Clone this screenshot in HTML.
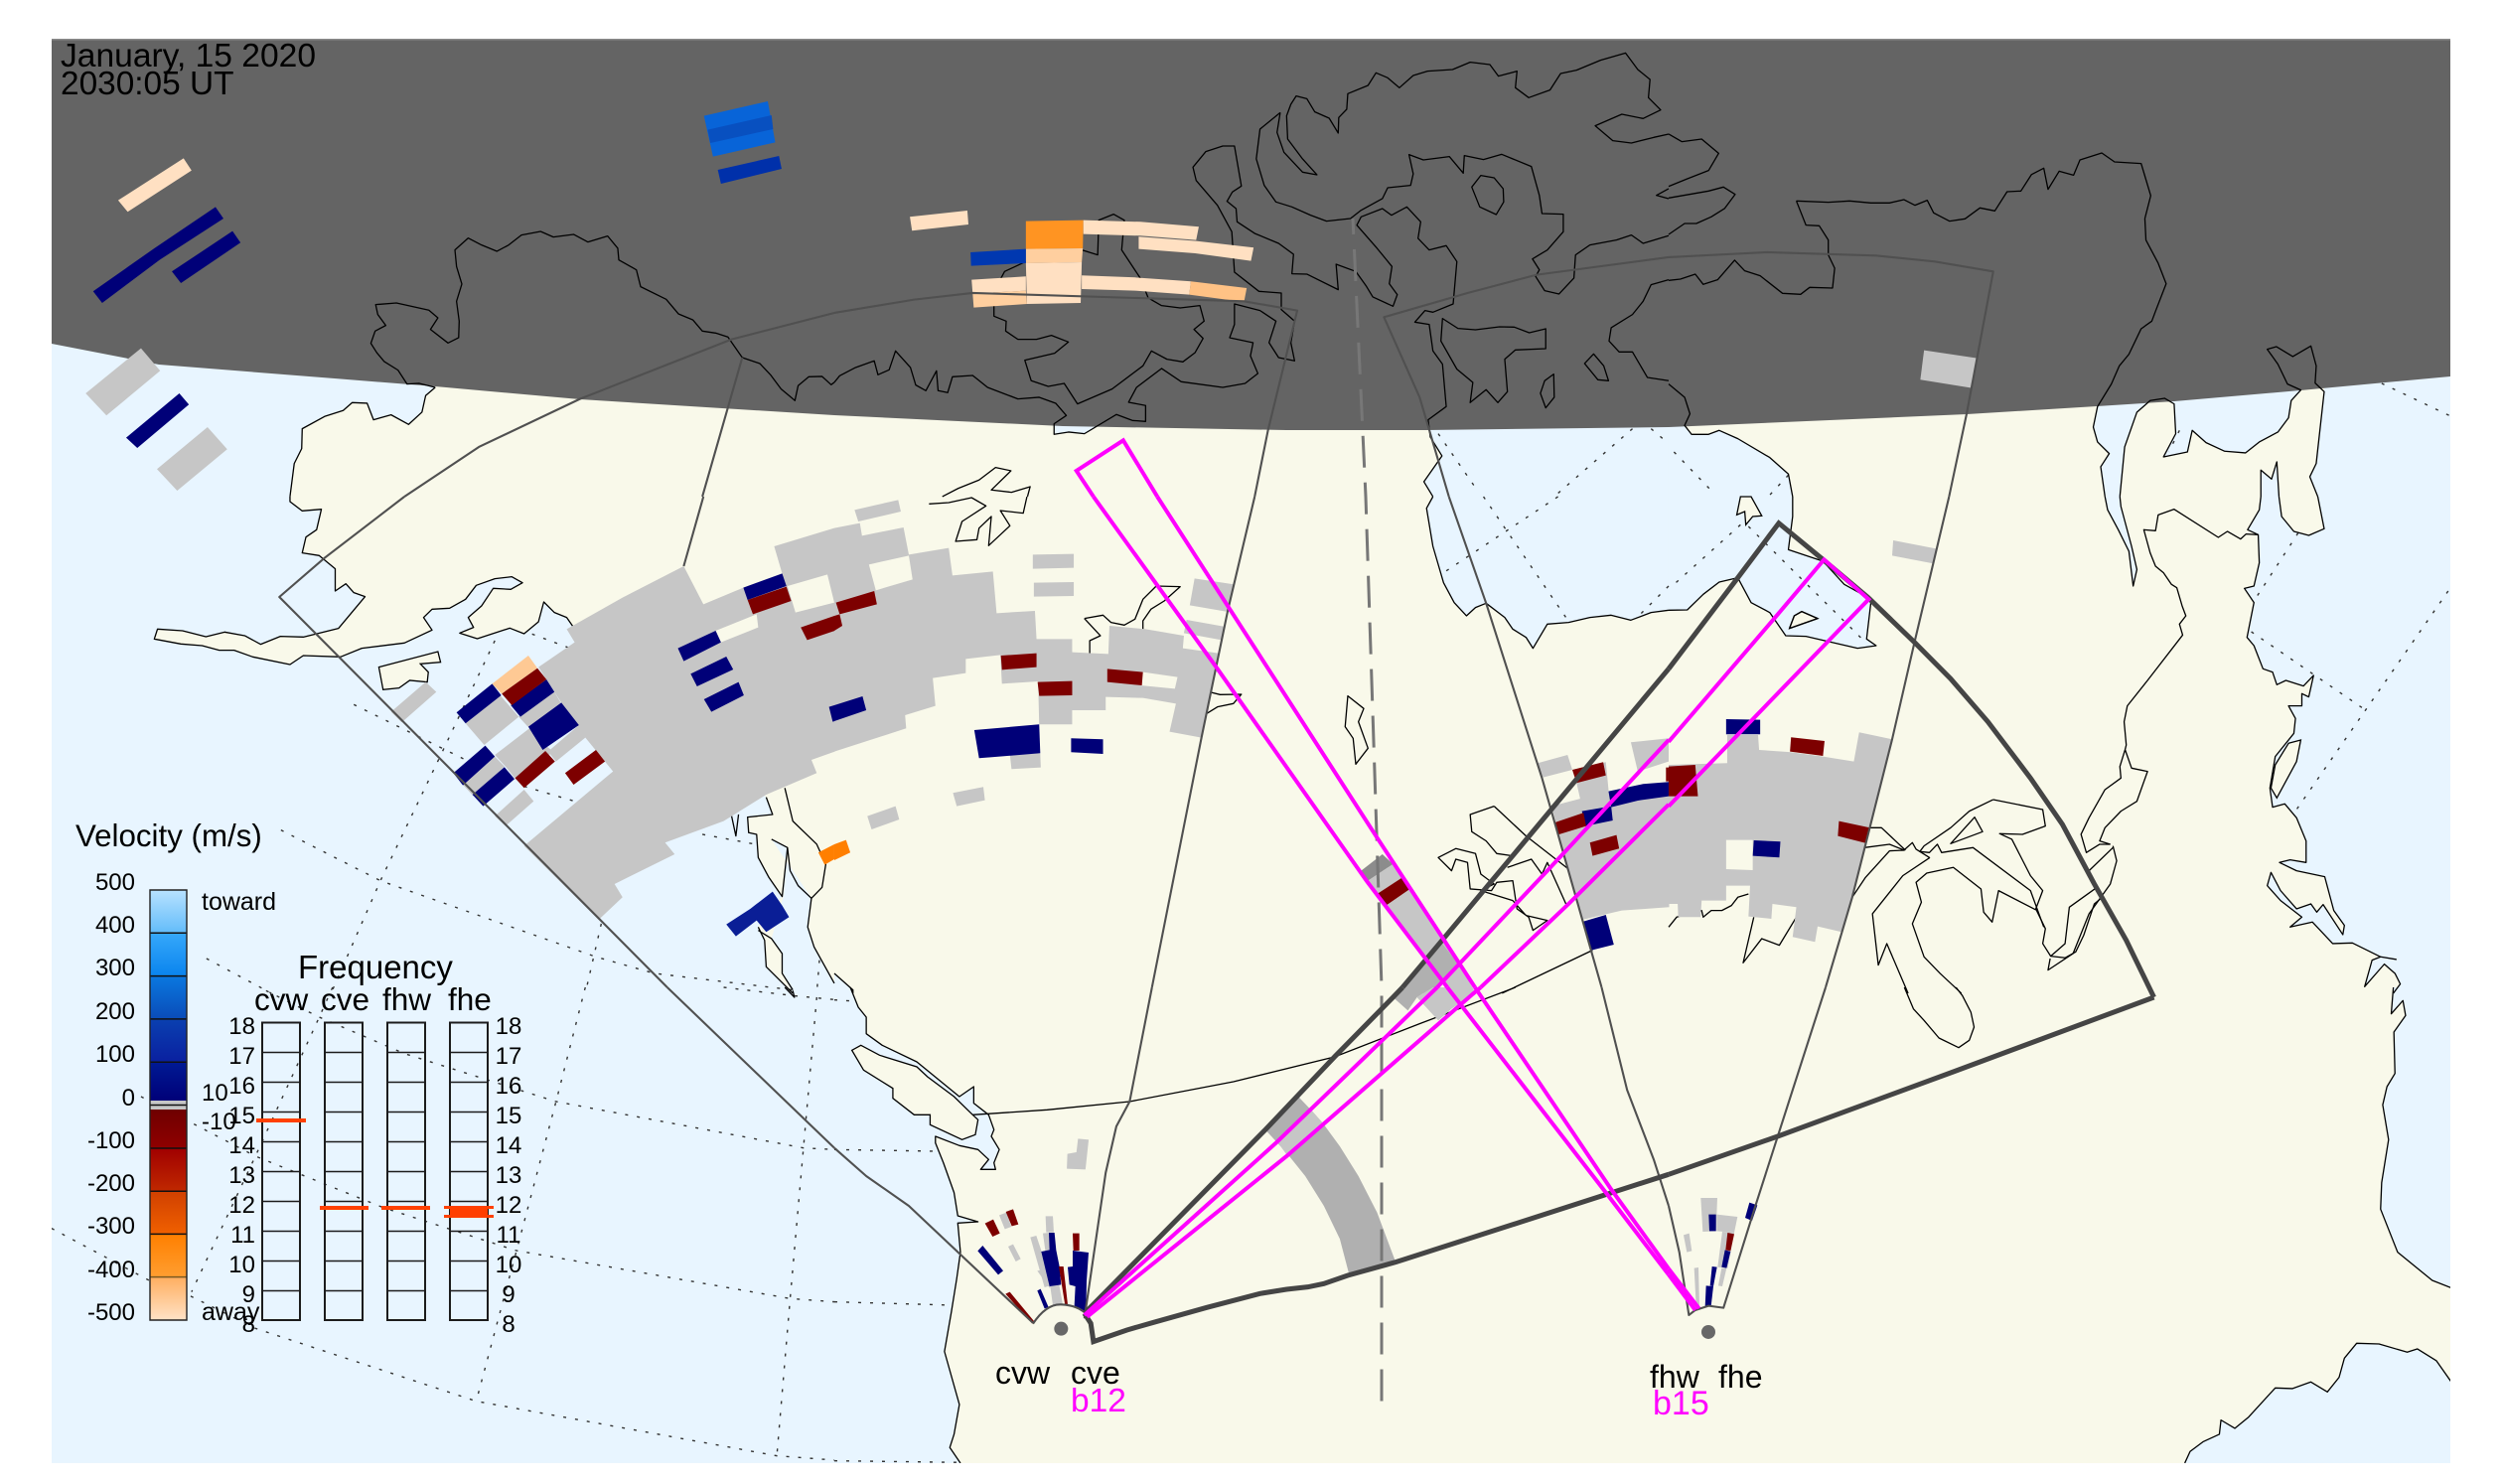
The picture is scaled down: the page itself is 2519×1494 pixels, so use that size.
<!DOCTYPE html>
<html><head><meta charset="utf-8"><title>SuperDARN velocity map</title>
<style>
html,body{margin:0;padding:0;background:#fff}
svg{display:block}
polygon,polyline,line,path,rect{vector-effect:non-scaling-stroke}
text{font-family:"Liberation Sans",sans-serif;fill:#000}
.o{fill:#e8f5ff;stroke:none}
.l{fill:#f9f9ea;stroke:none}
.c{fill:none;stroke:#000;stroke-width:1.3;stroke-linejoin:round}
.lc{fill:#f9f9ea;stroke:#000;stroke-width:1.3}
.d{fill:none;stroke:#333;stroke-width:1.4;stroke-dasharray:3 9}
.f{fill:none;stroke:#505050;stroke-width:2.1;stroke-linejoin:round}
.t{fill:none;stroke:#454545;stroke-width:5;stroke-linejoin:miter}
.m{fill:none;stroke:#ff00ff;stroke-width:4;stroke-linejoin:miter}
.g{fill:#c6c6c6}.n{fill:#000078}.r{fill:#7d0000}.a{fill:#b0b0b0}
.tk{stroke:#111;stroke-width:1.5}
.fb{fill:none;stroke:#1c1c1c;stroke-width:2}
.v{font-size:24px;text-anchor:end}
.fl{font-size:24px;text-anchor:end}
.fr{font-size:24px;text-anchor:middle}
</style></head><body>
<svg xmlns="http://www.w3.org/2000/svg" width="2519" height="1494" viewBox="0 0 2519 1494">
<defs>
<clipPath id="pc"><rect x="52" y="39" width="2415" height="1434"/></clipPath>
<linearGradient id="g1" x1="0" y1="0" x2="0" y2="1"><stop offset="0" stop-color="#b8e2ff"/><stop offset="1" stop-color="#62bcfa"/></linearGradient>
<linearGradient id="g2" x1="0" y1="0" x2="0" y2="1"><stop offset="0" stop-color="#36a8fa"/><stop offset="1" stop-color="#0a84ee"/></linearGradient>
<linearGradient id="g3" x1="0" y1="0" x2="0" y2="1"><stop offset="0" stop-color="#0a78e0"/><stop offset="1" stop-color="#0a4cb8"/></linearGradient>
<linearGradient id="g4" x1="0" y1="0" x2="0" y2="1"><stop offset="0" stop-color="#0a40b0"/><stop offset="1" stop-color="#0a20a0"/></linearGradient>
<linearGradient id="g5" x1="0" y1="0" x2="0" y2="1"><stop offset="0" stop-color="#001a94"/><stop offset="1" stop-color="#000078"/></linearGradient>
<linearGradient id="g6" x1="0" y1="0" x2="0" y2="1"><stop offset="0" stop-color="#6e0000"/><stop offset="1" stop-color="#900000"/></linearGradient>
<linearGradient id="g7" x1="0" y1="0" x2="0" y2="1"><stop offset="0" stop-color="#a00000"/><stop offset="1" stop-color="#c02800"/></linearGradient>
<linearGradient id="g8" x1="0" y1="0" x2="0" y2="1"><stop offset="0" stop-color="#d04000"/><stop offset="1" stop-color="#f06000"/></linearGradient>
<linearGradient id="g9" x1="0" y1="0" x2="0" y2="1"><stop offset="0" stop-color="#ff7f00"/><stop offset="1" stop-color="#ff9e30"/></linearGradient>
<linearGradient id="g10" x1="0" y1="0" x2="0" y2="1"><stop offset="0" stop-color="#ffae60"/><stop offset="1" stop-color="#ffe2c6"/></linearGradient>
</defs>
<rect width="2519" height="1494" fill="#fff"/>
<g clip-path="url(#pc)">
<rect x="52" y="39" width="2415" height="1434" fill="#f9f9ea"/>

<!-- OCEAN FILLS -->
<g transform="translate(0,0) scale(.5357,.3333)">
<polygon class="o" points="818,1170 800,1195 793,1245 768,1282 735,1253 702,1268 690,1218 662,1216 645,1240 610,1258 568,1295 567,1355 553,1400 545,1500 97,1500 97,1000 818,1000"/>
</g>
<g transform="translate(840,0) scale(.5357,.3333)">
<polygon class="o" points="1116,1268 1120,1320 1142,1377 1108,1455 1125,1500 1568,1500 1568,1200 1116,1200"/>
<polygon class="o" points="413,1280 413,1312 440,1305 470,1310 530,1252 413,1252"/>
</g>
<g transform="translate(1680,0) scale(.5357,.3333)">
<polygon class="o" points="30,1285 43,1312 75,1312 95,1300 130,1325 190,1382 225,1432 233,1500 0,1500 0,1200 30,1200"/>
<polygon class="o" points="806,1228 798,1290 806,1335 828,1370 812,1410 820,1500 848,1500 857,1350 880,1245 905,1210 932,1203 950,1220 953,1310 930,1380 975,1365 984,1300 1010,1337 1045,1363 1084,1368 1110,1335 1145,1305 1165,1262 1170,1210 1188,1178 1188,1100 806,1100"/>
<polygon class="o" points="1232,1183 1217,1400 1205,1440 1220,1500 1471,1500 1471,1100 1232,1100"/>
<polygon class="o" points="1113,1500 1113,1420 1133,1447 1143,1395 1147,1500"/>
</g>
<g transform="translate(0,500) scale(.5357,.3333)">
<polygon class="o" points="545,0 545,15 568,43 604,38 595,100 575,122 568,170 600,178 630,218 630,285 650,263 665,290 686,302 636,398 570,424 527,422 490,446 460,420 422,409 387,423 343,405 296,400 290,430 340,445 380,450 412,464 440,464 475,484 545,507 570,480 640,484 680,458 760,442 812,403 796,365 812,340 845,337 875,310 895,268 930,248 962,242 982,260 960,280 927,277 905,330 880,365 890,395 864,412 897,429 958,397 985,414 1012,378 1022,318 1042,350 1065,365 1078,395 1440,908 1452,960 1405,968 1407,1015 1422,1020 1425,1090 1445,1150 1470,1208 1450,1240 1425,1300 1437,1340 1440,1420 1490,1500 97,1500 97,0"/>
<polygon class="o" points="1490,1130 1525,1213 1518,1300 1530,1360 1568,1470 1568,1500 1490,1500 1472,1440 1470,1380 1450,1335 1472,1210 1480,1060 1450,1035"/>
<polygon class="lc" points="712,515 823,468 828,500 790,505 805,530 803,560 770,555 750,578 720,583"/>
</g>
<g transform="translate(0,994) scale(.5357,.3333)">
<rect class="o" x="97" y="18" width="1471" height="1419"/>
</g>
<g transform="translate(840,500) scale(.5357,.3333)">
<polygon class="o" points="1125,0 1113,35 1125,150 1145,260 1165,320 1188,360 1205,335 1225,322 1260,365 1275,400 1300,425 1313,458 1340,385 1380,380 1420,365 1460,358 1497,373 1535,350 1568,343 1568,0"/>
<polygon class="o" points="0,1440 35,1490 35,1500 0,1500"/>
</g>
<g transform="translate(1680,500) scale(.5357,.3333)">
<polygon class="o" points="0,343 35,342 65,295 95,258 130,245 155,320 190,350 220,420 258,422 355,458 390,450 372,430 380,320 375,305 330,265 290,195 262,180 225,160 233,60 233,0 0,0"/>
<polygon class="lc" points="250,347 280,368 227,398 236,360"/>
<polygon class="lc" points="135,0 128,55 143,45 145,85 158,60 175,58 155,0"/>
<polygon class="o" points="820,0 825,40 845,100 865,165 873,270 880,220 870,150 850,30 848,0"/>
<polygon class="o" points="1113,0 1110,40 1088,100 1108,115 1110,200 1100,270 1082,277 1100,320 1087,425 1100,450 1117,520 1135,530 1143,568 1160,555 1193,572 1212,540 1203,605 1190,595 1190,632 1165,632 1178,670 1175,715 1140,785 1130,880 1135,938 1158,928 1180,970 1198,1040 1198,1105 1168,1097 1148,1105 1180,1130 1233,1148 1250,1250 1270,1295 1267,1323 1230,1232 1218,1255 1207,1230 1180,1245 1150,1190 1132,1135 1125,1175 1150,1220 1190,1270 1168,1300 1210,1285 1248,1350 1285,1348 1338,1390 1322,1400 1308,1480 1345,1412 1365,1440 1375,1472 1362,1500 1471,1500 1471,0 1220,0 1232,97 1203,117 1175,105 1152,60 1147,0"/>
<polygon class="lc" points="1165,745 1188,735 1180,800 1143,910 1132,880 1140,810"/>
</g>
<g transform="translate(840,994) scale(.5357,.3333)">
<polygon class="o" points="30,0 45,60 60,90 60,140 90,175 155,225 235,330 262,300 262,350 290,385 300,430 295,450 310,490 300,530 303,550 275,550 290,520 270,490 235,478 190,450 190,470 205,530 225,620 232,690 270,708 232,712 237,800 230,880 220,980 207,1100 235,1260 225,1350 217,1390 237,1437 0,1437 0,0"/>
<polygon class="lc" points="50,175 33,190 55,250 110,305 110,335 150,385 180,385 180,415 240,460 265,445 270,400 260,385 225,330 175,270 155,240 85,205"/>
</g>
<g transform="translate(1680,994) scale(.5357,.3333)">
<polygon class="o" points="1362,0 1358,80 1380,40 1385,85 1363,135 1365,260 1350,300 1342,355 1353,460 1340,590 1338,670 1370,800 1435,885 1471,908 1471,0"/>
<polygon class="o" points="970,1437 980,1402 1005,1372 1035,1350 1038,1307 1064,1332 1090,1298 1140,1210 1172,1212 1207,1192 1238,1222 1260,1178 1270,1120 1293,1075 1335,1077 1388,1102 1407,1092 1443,1128 1470,1190 1471,1437"/>
</g>

<!-- DOTTED GRID -->
<g transform="translate(840,0) scale(.5357,.3333)">
<polyline class="d" points="1135,1310 1210,1485"/><polyline class="d" points="1500,1295 1360,1490"/><polyline class="d" points="1535,1295 1568,1340"/>
</g>
<g transform="translate(840,500) scale(.5357,.3333)">
<polyline class="d" points="1220,0 1375,365"/><polyline class="d" points="1360,0 1140,235"/><polyline class="d" points="1568,270 1515,355"/>
</g>
<g transform="translate(1680,0) scale(.5357,.3333)">
<polyline class="d" points="10,1365 85,1490"/><polyline class="d" points="225,1435 190,1495"/><polyline class="d" points="960,1300 940,1365"/><polyline class="d" points="1340,1158 1471,1258"/>
</g>
<g transform="translate(1680,500) scale(.5357,.3333)">
<polyline class="d" points="135,85 10,265"/><polyline class="d" points="150,90 370,440"/><polyline class="d" points="1183,110 1100,315"/><polyline class="d" points="1095,408 1310,645"/><polyline class="d" points="1465,285 1180,945"/>
</g>
<g transform="translate(0,500) scale(.5357,.3333)">
<polyline class="d" points="665,628 875,795"/><polyline class="d" points="930,435 830,775 715,1160 625,1490"/><polyline class="d" points="1000,415 1075,460"/><polyline class="d" points="985,875 1080,920"/><polyline class="d" points="528,1007 715,1160 1120,1390 1230,1440 1490,1490"/><polyline class="d" points="388,1395 510,1500"/><polyline class="d" points="1320,1020 1420,1050"/><polyline class="d" points="1130,1290 1100,1500"/><polyline class="d" points="1540,1400 1535,1500"/>
</g>
<g transform="translate(0,994) scale(.5357,.3333)">
<polyline class="d" points="1100,0 1045,345 970,800 895,1250"/><polyline class="d" points="500,10 600,90 760,200 1045,345 1510,485 1568,490"/><polyline class="d" points="1535,30 1510,485 1485,940 1460,1415"/><polyline class="d" points="625,0 600,90 480,510 360,920"/><polyline class="d" points="265,330 355,405 480,510 720,665 970,795 1485,940 1568,950"/><polyline class="d" points="97,728 280,885 355,930 480,1030 895,1250 1460,1415 1568,1428"/><polyline class="d" points="1360,0 1490,25 1568,37"/>
</g>
<g transform="translate(840,994) scale(.5357,.3333)">
<polyline class="d" points="0,38 40,42"/><polyline class="d" points="0,490 190,495"/><polyline class="d" points="0,950 220,960"/><polyline class="d" points="0,1430 237,1435"/>
</g>

<!-- NIGHT -->
<path d="M52,39 L2467,39 L2467,379 L2316,393 L2189,404 L2111,409 L1980,417 L1680,430 L1435,433 L1295,433 L1070,429 L840,418 L584,402 L438,389 L160,367 L52,346 Z" fill="#646464"/>
<rect x="52" y="39" width="2415" height="1.5" fill="#8a8a8a"/>

<!-- COASTS -->
<g transform="translate(0,0) scale(.5357,.3333)">
<polyline class="c" points="818,1170 788,1158 765,1160 748,1118 722,1092 708,1065 697,1037 705,1000 725,983 710,950 706,920 745,915 806,937 823,960 809,995 842,1036 862,1020 863,970 858,910 868,858 858,805 855,755 880,719 905,740 934,759 956,740 980,710 1016,699 1040,716 1078,708 1105,731 1142,713 1161,750 1163,785 1196,815 1204,866 1252,904 1275,948 1302,966 1320,1000 1345,1006 1368,1018 1395,1080 1428,1098 1448,1132 1468,1175 1494,1210 1500,1165 1520,1138 1545,1137 1562,1162 1568,1155"/>
<polyline class="c" points="818,1170 800,1195 793,1245 768,1282 735,1253 702,1268 690,1218 662,1216 645,1240 610,1258 568,1295 567,1355 553,1400 545,1500"/>
</g>
<g transform="translate(840,0) scale(.5357,.3333)">
<polyline class="c" points="0,1155 10,1135 40,1110 75,1090 82,1132 103,1117 115,1060 143,1110 153,1163 172,1180 192,1120 195,1180 213,1186 222,1138 260,1134 288,1170 345,1205 385,1200 416,1218 436,1255 413,1280 413,1312 440,1305 470,1310 530,1252 560,1270 585,1273 585,1225 553,1215 568,1170 615,1113 652,1153 730,1170 772,1158 796,1128 782,1075 787,1035 743,1020 752,980 752,918 800,938 830,970 817,1035 835,1080 865,1090 858,1035 865,970 840,935 840,885 798,880 752,822 747,700 720,620 680,545 674,505 698,458 730,441 752,441 765,562 748,580 738,608 755,630 757,670 790,705 835,735 863,768 860,827 888,828 947,875 943,798 980,820 1000,865 1012,897 1050,925 1058,890 1043,857 1048,805 1020,750 982,680 990,655 1030,630 1047,650 1076,625 1102,670 1097,720 1118,755 1150,742 1170,790 1163,918 1125,943 1110,938 1091,973 1118,980 1125,1060 1143,1100 1150,1228 1116,1268 1120,1320 1142,1377 1108,1455 1125,1500"/>
<polyline class="c" points="838,340 800,390 793,480 808,560 830,610 860,625 895,650 925,668 970,660 990,635 1030,600 1040,567 1083,560 1088,525 1080,467 1107,483 1156,473 1182,523 1184,470 1220,482 1254,466 1310,503 1325,590 1330,645 1370,647 1370,700 1340,755 1312,782 1325,815 1318,835 1335,878 1362,888 1390,840 1393,770 1420,740 1470,725 1498,710 1520,735 1568,712"/>
<polyline class="c" points="838,340 832,400 845,460 880,520 907,528 880,480 852,420 850,350 858,315 868,290 888,298 903,338 930,357 947,402 948,355 963,330 965,283 1003,258 1018,220 1040,235 1062,265 1088,228 1115,215 1162,210 1195,188 1232,195 1248,230 1283,215 1280,265 1305,295 1345,272 1365,222 1395,212 1440,182 1487,160 1510,210 1533,240 1530,295 1553,332 1520,358 1480,345 1430,380 1463,425 1498,432 1540,415 1568,405"/>
<polyline class="c" points="1568,570 1545,590 1568,600"/>
<polyline class="c" points="1568,845 1535,860 1520,910 1500,950 1460,990 1456,1030 1475,1063 1500,1063 1528,1140 1568,1150"/>
<polygon class="c" points="1143,962 1172,992 1205,996 1250,987 1278,988 1306,1005 1337,993 1337,1053 1280,1057 1260,1085 1265,1183 1247,1216 1225,1177 1195,1216 1200,1155 1170,1115 1140,1030"/>
<polygon class="c" points="1427,1069 1446,1105 1455,1150 1435,1147 1410,1098"/>
<polygon class="c" points="1352,1130 1353,1200 1337,1232 1327,1188 1335,1150"/>
<polygon class="c" points="1198,565 1215,530 1240,537 1257,570 1258,610 1244,648 1213,625"/>
<polyline class="c" points="360,790 320,820 300,880 300,955 323,970 322,1000 345,1025 380,1025 408,1013 440,1033 414,1067 358,1088 370,1150 402,1167 432,1158 457,1220 522,1175 580,1105 596,1060 625,1085 655,1093 678,1065 693,1022 676,995 695,970 687,923 650,930 615,923 590,900 575,840 540,755 545,665 525,647 497,665 495,770 465,755"/>
<polyline class="c" points="203,1500 233,1475 272,1450 303,1412 332,1422 295,1480 333,1487 368,1470 363,1500"/>
</g>
<g transform="translate(1680,0) scale(.5357,.3333)">
<polyline class="c" points="240,607 300,611 340,607 380,613 415,613 442,603 463,620 486,605 498,643 528,668 557,661 585,628 613,637 636,579 662,577 682,527 705,508 713,572 734,517 761,529 773,483 814,462 838,489 888,494 906,591 895,660 897,725 920,795 935,857 915,940 908,970 888,993 865,1070 847,1105 832,1160 806,1228 798,1290 806,1335 828,1370 812,1410 820,1500"/>
<polyline class="c" points="240,607 258,680 283,682 300,725 300,770 312,810 308,870 265,868 248,889 214,886 172,833 143,818 124,786 92,845 65,859 50,828 22,843 0,847"/>
<polyline class="c" points="0,405 25,428 62,420 94,463 75,515 35,540 0,563"/>
<polyline class="c" points="0,598 75,577 103,565 125,587 105,630 80,655 52,675 30,675 0,708"/>
<polyline class="c" points="0,1160 30,1200 40,1250 30,1285 43,1312 75,1312 95,1300 130,1325 190,1382 225,1432 233,1500"/>
<polyline class="c" points="848,1500 857,1350 880,1245 905,1210 932,1203 950,1220 953,1310 930,1380 975,1365 984,1300 1010,1337 1045,1363 1084,1368 1110,1335 1145,1305 1165,1262 1170,1210 1188,1178 1163,1160 1145,1100 1125,1055 1142,1047 1173,1077 1207,1045 1217,1105 1215,1157 1232,1183 1217,1400 1205,1440 1220,1500"/>
<polyline class="c" points="1113,1500 1113,1420 1133,1447 1143,1395 1147,1500"/>
</g>
<g transform="translate(0,500) scale(.5357,.3333)">
<polyline class="c" points="545,0 545,15 568,43 604,38 595,100 575,122 568,170 600,178 630,218 630,285 650,263 665,290 686,302 636,398 570,424 527,422 490,446 460,420 422,409 387,423 343,405 296,400 290,430 340,445 380,450 412,464 440,464 475,484 545,507 570,480 640,484 680,458 760,442 812,403 796,365 812,340 845,337 875,310 895,268 930,248 962,242 982,260 960,280 927,277 905,330 880,365 890,395 864,412 897,429 958,397 985,414 1012,378 1022,318 1042,350 1065,365 1078,395"/>
<polyline class="c" points="1440,908 1452,960 1405,968 1407,1015 1422,1020 1425,1090 1445,1150 1470,1208 1480,1060 1450,1035"/>
<polyline class="c" points="1375,965 1383,1025 1388,960"/>
<polyline class="c" points="1475,880 1490,980 1535,1050 1552,1110 1545,1180 1525,1213 1518,1300 1530,1360 1568,1470"/>
<polyline class="c" points="1525,1213 1500,1175 1485,1130 1480,1060"/>
<polyline class="c" points="1425,1300 1437,1340 1440,1420 1490,1500"/>
<polyline class="c" points="1425,1310 1450,1335 1470,1380 1470,1440 1490,1490"/>
</g>
<g transform="translate(0,994) scale(.5357,.3333)">
<polyline class="c" points="1475,0 1493,30 1490,10"/>
</g>
<g transform="translate(840,500) scale(.5357,.3333)">
<polyline class="c" points="1125,0 1113,35 1125,150 1145,260 1165,320 1188,360 1205,335 1225,322 1260,365 1275,400 1300,425 1313,458 1340,385 1380,380 1420,365 1460,358 1497,373 1535,350 1568,343"/>
<polygon class="c" points="965,602 995,640 985,680 1003,760 980,808 975,730 960,695"/>
<polyline class="c" points="1240,935 1300,1025 1380,1125"/>
<polyline class="c" points="1240,935 1195,960 1198,1012 1225,1040 1245,1078 1275,1085"/>
<polygon class="c" points="1135,1090 1168,1063 1205,1078 1215,1140 1240,1170 1215,1190 1275,1220 1300,1265 1340,1280 1313,1310 1305,1270 1283,1245 1275,1160 1245,1165 1235,1190 1195,1185 1190,1105 1168,1095 1160,1130"/>
<polyline class="c" points="1265,1120 1310,1095 1330,1140 1340,1105 1375,1230"/>
<polyline class="c" points="178,22 215,18 258,3 285,28 240,75 228,135 268,130 272,95 295,60 290,148 330,88 312,42 355,50 362,0"/>
<polyline class="c" points="470,368 505,358 520,380 545,388 565,370 580,310 605,270 650,272 620,315 595,340 580,375 580,400"/>
<polyline class="c" points="470,368 500,420 480,435 480,475"/>
<polyline class="c" points="705,590 725,598 765,597 750,625 720,635 700,655"/>
<polyline class="c" points="1255,1500 1425,1370"/>
<polyline class="c" points="0,1440 35,1490 35,1500"/>
</g>
<g transform="translate(1680,500) scale(.5357,.3333)">
<polyline class="c" points="0,343 35,342 65,295 95,258 130,245 155,320 190,350 220,420 258,422 355,458 390,450 372,430 380,320 375,305 330,265 290,195 262,180 225,160 233,60 233,0"/>
<polyline class="c" points="250,347 280,368 227,398 236,360 250,347"/>
<polyline class="c" points="820,0 825,40 845,100 865,165 873,270 880,220 870,150 850,30 848,0"/>
<polyline class="c" points="1220,0 1232,97 1203,117 1175,105 1152,60 1147,0"/>
<polyline class="c" points="1113,0 1110,40 1088,100 1108,115 1110,200 1100,270 1082,277 1100,320 1087,425 1100,450 1117,520 1135,530 1143,568 1160,555 1193,572 1212,540 1203,605 1190,595 1190,632 1165,632 1178,670 1175,715 1140,785 1130,880 1135,938 1158,928 1180,970 1198,1040 1198,1105 1168,1097 1148,1105 1180,1130 1233,1148 1250,1250 1270,1295 1267,1323 1230,1232 1218,1255 1207,1230 1180,1245 1150,1190 1132,1135 1125,1175 1150,1220 1190,1270 1168,1300 1210,1285 1248,1350 1285,1348 1338,1390 1368,1398"/>
<polyline class="c" points="1338,1390 1322,1400 1308,1480 1345,1412 1365,1440 1375,1472 1362,1500"/>
<polyline class="c" points="1108,115 1085,113 1075,128 1050,105 1033,123 950,38 920,55 915,103 893,100 905,170 915,210 930,230 945,265 955,275 965,330 972,360 960,385 966,418 900,555 862,632 856,680 860,750 858,763 848,815 850,850 820,885 790,970 775,1020 785,1075 810,1050 830,1050"/>
<polyline class="c" points="858,765 870,820 900,830 880,920 850,950 820,1000 810,1040 830,1050"/>
<polyline class="c" points="610,915 703,945 708,995 665,1020 622,1018 645,1035 680,1145 703,1190 690,1245 708,1305 703,1350 718,1388 745,1393 765,1375 780,1325 800,1230 815,1210"/>
<polyline class="c" points="690,1248 620,1190 608,1285 592,1255 587,1185 535,1120 485,1137 465,1165 475,1225 458,1290 480,1390 510,1440 550,1500"/>
<polyline class="c" points="610,915 565,950 530,1000 480,1055 472,1072 490,1075 505,1050 513,1075 572,1060 680,1190 705,1300"/>
<polyline class="c" points="491,1090 440,1145 383,1260 394,1415 410,1350 450,1500"/>
<polyline class="c" points="490,1090 465,1065 458,1045 442,1068 415,1070 370,1150 345,1210"/>
<polyline class="c" points="445,1068 400,1000 375,1000"/>
<polyline class="c" points="368,1060 415,1050 443,1068"/>
<polygon class="c" points="575,968 590,1012 530,1048"/>
<polyline class="c" points="835,1055 842,1100 830,1170 790,1260 760,1380 713,1430 717,1395"/>
<polyline class="c" points="835,1060 790,1130 805,1180 753,1240 745,1350 718,1388"/>
<polyline class="c" points="150,1200 130,1210 118,1235 100,1250 80,1250 65,1270 62,1250 15,1270 0,1300"/>
<polyline class="c" points="160,1270 140,1408 175,1335 208,1355 240,1270"/>
</g>
<g transform="translate(840,994) scale(.5357,.3333)">
<polyline class="c" points="30,0 45,60 60,90 60,140 90,175 155,225 235,330 262,300 262,350 290,385 300,430 295,450 310,490 300,530 303,550 275,550 290,520 270,490 235,478 190,450 190,470 205,530 225,620 232,690 270,708 232,712 237,800 230,880 220,980 207,1100 235,1260 225,1350 217,1390 237,1437"/>
<polyline class="c" points="260,385 400,370 555,345 750,285 940,210 1100,110 1280,0"/>
</g>
<g transform="translate(1680,994) scale(.5357,.3333)">
<polyline class="c" points="1362,0 1358,80 1380,40 1385,85 1363,135 1365,260 1350,300 1342,355 1353,460 1340,590 1338,670 1370,800 1435,885 1471,908"/>
<polyline class="c" points="970,1437 980,1402 1005,1372 1035,1350 1038,1307 1064,1332 1090,1298 1140,1210 1172,1212 1207,1192 1238,1222 1260,1178 1270,1120 1293,1075 1335,1077 1388,1102 1407,1092 1443,1128 1470,1190"/>
<polyline class="c" points="443,0 460,65 480,100 508,153 545,182 565,160 574,120 568,75 552,25 540,0"/>
</g>

<!-- DATA -->
<g transform="translate(0,0) scale(.5357,.3333)">
<polygon fill="#ffe0c2" points="222,605 345,478 360,515 240,640"/>
<polygon class="n" points="175,880 290,750 405,625 420,660 300,785 192,915"/>
<polygon class="n" points="323,820 437,698 452,733 340,855"/>
<polygon fill="#0864d8" points="1323,350 1443,306 1457,430 1340,473"/>
<polygon fill="#0850c0" points="1330,392 1450,348 1453,390 1335,432"/>
<polygon fill="#0030aa" points="1349,513 1464,471 1469,510 1355,555"/>
<polygon class="g" points="161,1188 265,1052 301,1120 200,1255"/>
<polygon class="n" points="237,1322 337,1188 355,1222 258,1353"/>
<polygon class="g" points="295,1417 390,1290 427,1357 333,1482"/>
</g>
<g transform="translate(840,0) scale(.5357,.3333)">
<polygon fill="#ffe0c2" points="142,655 250,636 252,678 146,697"/>
<polygon fill="#ff9422" points="360,668 468,665 467,750 360,752"/>
<polygon fill="#ffcf9f" points="360,752 467,750 465,792 360,795"/>
<polygon fill="#ffe0c2" points="360,795 465,792 463,915 362,918"/>
<polygon fill="#0038b0" points="256,762 360,752 360,795 257,803"/>
<polygon fill="#ffe0c2" points="468,665 575,670 685,685 680,725 575,712 468,707"/>
<polygon fill="#ffe0c2" points="572,715 680,728 788,748 783,788 678,765 572,752"/>
<polygon fill="#ffe0c2" points="258,845 360,835 360,878 260,887"/>
<polygon fill="#ffcf9f" points="260,887 360,878 362,918 262,929"/>
<polygon fill="#ffe0c2" points="465,832 565,838 670,850 667,890 565,878 465,873"/>
<polygon fill="#ffc285" points="670,850 775,870 770,912 667,890"/>
</g>
<g transform="translate(1680,0) scale(.5357,.3333)">
<polygon class="g" points="480,1058 580,1082 570,1172 473,1147"/>
</g>
<g transform="translate(0,500) scale(.5357,.3333)">
<polygon class="g" points="1065,400 1170,305 1285,210 1322,325 1397,275 1470,232 1455,150 1568,95 1569,95 1569,770 1525,795 1535,835 1440,900 1360,980 1250,1045 1268,1080 1155,1170 1170,1210 1125,1278 985,1055 1152,830 1100,728 1055,622 1012,515 1080,440"/>
<polygon class="l" points="1345,405 1422,355 1425,395 1355,440"/>
<polygon class="l" points="1480,270 1555,235 1568,320 1495,350"/>
<polygon class="g" points="875,685 940,600 975,665 910,750"/>
<polygon class="g" points="975,665 1040,585 1055,625 995,700"/>
<polygon class="g" points="930,780 995,700 1012,735 1040,770 970,855 950,815"/>
<polygon class="g" points="870,870 930,785 948,815 890,905"/>
<polygon class="g" points="930,965 985,885 1003,920 950,995"/>
<polygon class="g" points="735,650 800,560 820,590 755,682"/>
<polygon class="o" points="1043,800 1100,728 1152,830 1080,920 1060,835"/>
<polygon class="g" points="1030,770 1088,690 1100,728 1045,800"/>
<polygon class="n" points="858,652 925,565 942,600 875,685"/>
<polygon class="n" points="960,630 1027,552 1042,590 978,665"/>
<polygon class="n" points="993,695 1055,622 1088,690 1020,765"/>
<polygon class="n" points="852,835 912,752 930,785 870,872"/>
<polygon class="n" points="888,900 948,817 967,853 908,935"/>
<polygon class="r" points="943,595 1010,518 1027,552 962,630"/>
<polygon class="r" points="968,850 1025,768 1043,800 985,880"/>
<polygon class="r" points="1062,835 1120,765 1137,800 1078,870"/>
<polygon fill="#fec994" points="925,565 993,480 1010,518 943,595"/>
<polygon class="n" points="1397,275 1470,232 1478,270 1405,312"/>
<polygon class="r" points="1405,312 1478,272 1487,315 1415,355"/>
<polygon class="n" points="1274,458 1345,405 1355,440 1285,497"/>
<polygon class="n" points="1298,535 1365,483 1378,522 1310,573"/>
<polygon class="n" points="1323,612 1388,560 1398,600 1337,650"/>
<polygon class="n" points="1558,635 1568,630 1569,630 1569,678 1565,680"/>
<polygon class="r" points="1505,395 1568,360 1569,360 1569,405 1517,433"/>
<polygon fill="#0a1e96" points="1365,1292 1410,1245 1452,1193 1470,1235 1483,1270 1440,1315 1422,1280 1383,1328"/>
<polygon fill="#ff7f00" points="1538,1075 1568,1050 1568,1095 1550,1112"/>
</g>
<g transform="translate(840,500) scale(.5357,.3333)">
<polygon class="g" points="0,95 48,80 52,118 130,93 140,175 215,155 222,238 298,226 305,352 377,345 380,430 447,430 447,470 515,475 517,390 585,400 657,420 655,458 722,473 690,728 630,710 642,625 580,608 510,605 510,645 447,645 447,688 385,688 383,558 315,565 312,478 247,490 247,533 185,548 190,632 133,660 135,700 0,770"/>
<polygon class="l" points="65,205 140,178 147,250 78,283"/>
<polygon class="l" points="580,530 645,545 640,580 575,570"/>
<polygon class="g" points="38,40 120,10 125,45 45,75"/>
<polygon class="g" points="373,175 450,173 450,215 373,218"/>
<polygon class="g" points="375,260 450,258 450,300 375,302"/>
<polygon class="g" points="677,247 752,265 740,348 668,328"/>
<polygon class="g" points="662,372 735,393 728,433 657,412"/>
<polygon class="g" points="223,895 280,877 283,917 230,935"/>
<polygon class="g" points="62,965 115,935 122,975 70,1005"/>
<polygon class="g" points="330,780 387,775 388,818 333,823"/>
<polygon class="r" points="3,320 75,285 80,325 10,355"/>
<polygon class="r" points="0,360 10,355 15,390 0,405"/>
<polygon class="n" points="0,630 53,603 60,645 0,678"/>
<polygon class="r" points="513,520 580,530 578,570 513,560"/>
<polygon class="r" points="313,480 380,473 380,515 315,523"/>
<polygon class="r" points="382,560 447,557 447,600 385,602"/>
<polygon class="n" points="263,705 385,688 387,775 272,790"/>
<polygon class="n" points="445,730 505,733 505,777 445,772"/>
<polygon fill="#ff7f00" points="0,1050 22,1037 30,1075 0,1098"/>
<polygon fill="#8c8c8c" points="990,1130 1030,1080 1050,1110 1003,1160"/>
<polygon class="g" points="1003,1160 1050,1110 1070,1150 1020,1200"/>
<polygon class="r" points="1020,1200 1068,1150 1082,1185 1037,1235"/>
<polygon class="g" points="1037,1235 1082,1185 1142,1335 1105,1390"/>
<polygon class="g" points="1105,1390 1140,1335 1175,1410 1205,1500 1165,1500"/>
<polygon class="a" points="1057,1500 1140,1345 1172,1410 1120,1500"/>
<polygon class="g" points="1322,805 1378,780 1387,825 1332,848"/>
<polygon class="g" points="1387,825 1450,802 1458,935 1407,950 1395,865"/>
<polygon class="r" points="1387,825 1445,802 1450,842 1395,865"/>
<polygon class="g" points="1497,742 1568,730 1568,800 1510,830"/>
<polygon class="g" points="1348,935 1455,890 1568,862 1569,1240 1480,1250 1405,1278"/>
<polygon class="n" points="1455,890 1520,868 1568,862 1568,905 1510,918 1460,938"/>
<polygon class="r" points="1563,818 1568,818 1568,860 1563,860"/>
<polygon class="n" points="1405,950 1460,935 1463,978 1412,995"/>
<polygon class="r" points="1353,985 1408,955 1413,995 1362,1020"/>
<polygon class="r" points="1420,1045 1470,1022 1475,1063 1425,1085"/>
<polygon class="n" points="1408,1283 1450,1263 1465,1353 1423,1370"/>
</g>
<g transform="translate(1680,500) scale(.5357,.3333)">
<polygon class="g" points="0,810 110,805 110,720 168,720 170,765 230,772 290,785 348,800 358,712 420,733 345,1210 325,1315 280,1298 275,1345 233,1330 240,1240 195,1230 193,1275 150,1268 153,1175 108,1175 108,1220 62,1220 60,1270 18,1270 17,1230 0,1230"/>
<polygon class="l" points="108,1037 158,1037 158,1128 108,1125"/>
<polygon class="r" points="0,815 50,810 55,905 0,905"/>
<polygon class="n" points="108,672 172,674 172,718 108,718"/>
<polygon class="r" points="230,727 293,738 290,783 228,770"/>
<polygon class="r" points="320,980 378,1000 372,1047 318,1025"/>
<polygon class="n" points="160,1038 210,1042 208,1090 158,1085"/>
<polygon class="g" points="422,132 505,158 498,202 420,178"/>
</g>
<g transform="translate(840,994) scale(.5357,.3333)">
<polygon class="a" points="1057,18 1072,0 1125,0 1095,30 1078,70 1050,30"/>
<polygon class="g" points="1095,30 1125,0 1170,0 1200,20 1160,65 1135,100"/>
<polygon class="a" points="810,430 872,330 897,372 918,410 950,480 985,570 1020,680 1055,830 968,870 950,760 920,660 885,570 850,500"/>
<polygon class="g" points="832,465 897,372 918,410 850,505"/>
<polygon class="g" points="438,503 455,498 458,457 478,460 472,550 437,548"/>
</g>
<!-- cv near-range detail -->
<g transform="translate(960,1180) scale(.3333)">
<polygon class="n" points="73,238 88,222 150,298 135,310"/>
<polygon class="r" points="95,155 120,143 140,185 118,195"/>
<polygon class="g" points="138,130 160,122 175,165 155,172"/>
<polygon class="r" points="158,120 180,112 196,158 176,163"/>
<polygon class="g" points="165,225 180,218 203,262 188,270"/>
<polygon class="g" points="232,197 250,192 300,340 275,348"/>
<polygon class="g" points="278,133 300,133 303,182 280,182"/>
<polygon class="g" points="270,185 290,183 330,400 300,402"/>
<polygon class="g" points="253,298 270,295 300,345 290,350"/>
<polygon class="n" points="288,183 305,183 310,235 320,285 325,340 290,345 265,240 290,235"/>
<polygon class="r" points="318,285 332,285 345,400 337,402"/>
<polygon class="n" points="253,358 263,353 287,408 275,412"/>
<polygon class="r" points="157,368 170,362 243,450 238,458"/>
<polygon class="r" points="360,185 380,185 380,237 362,237"/>
<polygon class="n" points="360,237 408,243 402,330 400,425 385,420 365,403 368,345 350,340 345,287 360,285"/>
<circle cx="325" cy="473" r="21" fill="#686868"/>
</g>
<!-- fh near-range detail -->
<g transform="translate(1660,1180) scale(.3333)">
<polygon class="g" points="157,78 207,78 205,128 203,178 163,180"/>
<polygon class="g" points="205,128 268,135 258,183 205,178"/>
<polygon class="n" points="181,128 203,128 203,178 183,178"/>
<polygon class="g" points="222,180 258,183 238,290 208,287"/>
<polygon class="r" points="238,183 258,187 247,238 232,235"/>
<polygon class="n" points="230,235 247,240 235,290 220,287"/>
<polygon class="g" points="220,290 235,290 222,345 210,343"/>
<polygon class="n" points="191,285 206,287 195,345 185,343"/>
<polygon class="n" points="173,343 195,345 188,405 170,407"/>
<polygon class="g" points="137,290 150,288 153,405 143,405"/>
<polygon class="g" points="105,190 122,185 130,238 115,242"/>
<polygon class="n" points="304,92 328,100 312,147 291,138"/>
<circle cx="180" cy="483" r="21" fill="#686868"/>
</g>

<!-- FOV THIN LINES -->
<g transform="translate(0,0) scale(.5357,.3333)">
<polyline class="f" points="760,1500 900,1350 1090,1205 1375,1025 1568,945"/>
<polyline class="f" points="1395,1080 1320,1500"/>
</g>
<g transform="translate(840,0) scale(.5357,.3333)">
<polyline class="f" points="0,945 150,905 260,885 770,910 870,938 815,1300 790,1500"/>
<polyline class="f" points="1568,777 1320,830 1190,885 1033,958 1100,1200 1155,1500"/>
</g>
<g transform="translate(1680,0) scale(.5357,.3333)">
<polyline class="f" points="0,777 185,762 390,772 500,790 610,820 560,1250 527,1500"/>
</g>
<g transform="translate(0,500) scale(.5357,.3333)">
<polyline class="f" points="1254,1482 525,303 610,185 760,0"/>
<polyline class="f" points="1322,0 1285,210"/>
</g>
<g transform="translate(0,994) scale(.5357,.3333)">
<polyline class="f" points="1568,485 1254,0"/>
</g>
<g transform="translate(840,500) scale(.5357,.3333)">
<polyline class="f" points="790,0 740,340 690,728 597,1482"/>
<polyline class="f" points="1155,0 1225,322 1330,850 1442,1482"/>
</g>
<g transform="translate(1680,500) scale(.5357,.3333)">
<polyline class="f" points="527,0 462,440 420,733 345,1210 295,1482"/>
</g>
<g transform="translate(840,994) scale(.5357,.3333)">
<polyline class="f" points="597,0 555,345 530,420 510,560 470,1000"/>
<polyline class="f" points="0,485 60,570 140,660 373,1013"/>
<polyline class="f" points="1442,0 1490,310 1540,520 1568,660"/>
</g>
<g transform="translate(1680,994) scale(.5357,.3333)">
<polyline class="f" points="0,660 20,800 38,990 50,975 75,962 103,968 165,650 205,450 295,0"/>
</g>
<g transform="translate(960,1180) scale(.3333)">
<path class="f" d="M240,458 Q280,398 325,400 Q375,402 403,430"/>
</g>

<!-- CENTER DASHED -->
<polyline fill="none" stroke="#777" stroke-width="3" stroke-dasharray="32 15" stroke-dashoffset="16" points="1362,220 1375,500 1391,994 1391,1414"/>

<!-- THICK BOX -->
<g transform="translate(840,994) scale(.5357,.3333)">
<polyline class="t" points="470,985 482,1015 487,1070 550,1035 600,1012 700,967 800,925 850,912 890,905 920,895 965,870 1055,830 1568,565"/>
<polyline class="t" points="470,985 810,430 940,210 1050,30 1068,0"/>
</g>
<g transform="translate(840,500) scale(.5357,.3333)">
<polyline class="t" points="1568,520 1145,1335 1068,1482"/>
</g>
<g transform="translate(1680,994) scale(.5357,.3333)">
<polyline class="t" points="0,565 205,450 535,255 912,30"/>
</g>
<g transform="translate(1680,500) scale(.5357,.3333)">
<polyline class="t" points="912,1512 860,1340 800,1170 740,990 680,850 600,680 530,550 462,440 375,305 290,190 207,80 130,245 0,520"/>
</g>

<!-- MAGENTA BEAMS -->
<g transform="translate(840,994) scale(.5357,.3333)">
<polyline class="m" points="470,990 830,470 1133,0"/>
<polyline class="m" points="475,995 850,510 1200,20 1215,0"/>
<polyline class="m" points="1152,0 1450,620 1568,868"/>
<polyline class="m" points="1204,0 1460,610 1568,850"/>
</g>
<g transform="translate(840,500) scale(.5357,.3333)">
<polyline class="m" points="1568,735 1340,1130 1133,1482"/>
<polyline class="m" points="1215,1482 1380,1230 1568,930"/>
<polyline class="m" points="487,0 720,520 1000,1160 1152,1482"/>
<polyline class="m" points="607,0 1020,1030 1204,1482"/>
</g>
<g transform="translate(1680,500) scale(.5357,.3333)">
<polyline class="m" points="0,740 200,365 292,190 376,310 0,935"/>
</g>
<g transform="translate(840,0) scale(.5357,.3333)">
<polyline class="m" points="487,1500 455,1422 543,1330 607,1500"/>
</g>
<g transform="translate(1680,994) scale(.5357,.3333)">
<polyline class="m" points="0,868 50,975"/>
<polyline class="m" points="0,850 57,970"/>
</g>
</g><!-- /clip -->

<!-- TEXT -->
<text x="61" y="67" font-size="33.6">January, 15 2020</text>
<text x="61" y="95" font-size="33.4">2030:05 UT</text>

<!-- COLORBAR -->
<text x="76" y="852" font-size="31.3">Velocity (m/s)</text>
<rect x="151" y="896" width="37" height="43.3" fill="url(#g1)"/>
<rect x="151" y="939.3" width="37" height="43.3" fill="url(#g2)"/>
<rect x="151" y="982.6" width="37" height="43.3" fill="url(#g3)"/>
<rect x="151" y="1025.9" width="37" height="43.3" fill="url(#g4)"/>
<rect x="151" y="1069.2" width="37" height="39" fill="url(#g5)"/>
<rect x="151" y="1108" width="37" height="9" fill="#c6c6c6"/>
<rect x="151" y="1117" width="37" height="39" fill="url(#g6)"/>
<rect x="151" y="1156" width="37" height="43.2" fill="url(#g7)"/>
<rect x="151" y="1199.2" width="37" height="43.2" fill="url(#g8)"/>
<rect x="151" y="1242.4" width="37" height="43.2" fill="url(#g9)"/>
<rect x="151" y="1285.6" width="37" height="43.4" fill="url(#g10)"/>
<g class="tk">
<line x1="151" x2="188" y1="939.3" y2="939.3"/><line x1="151" x2="188" y1="982.6" y2="982.6"/><line x1="151" x2="188" y1="1025.9" y2="1025.9"/><line x1="151" x2="188" y1="1069.2" y2="1069.2"/><line x1="151" x2="188" y1="1112.5" y2="1112.5"/><line x1="151" x2="188" y1="1156" y2="1156"/><line x1="151" x2="188" y1="1199.2" y2="1199.2"/><line x1="151" x2="188" y1="1242.4" y2="1242.4"/>
<line x1="151" x2="188" y1="1285.6" y2="1285.6" stroke="#7a5a20"/>
</g>
<rect x="151" y="896" width="37" height="433" fill="none" stroke="#222" stroke-width="1.4"/>
<text class="v" x="136" y="896">500</text>
<text class="v" x="136" y="939">400</text>
<text class="v" x="136" y="982">300</text>
<text class="v" x="136" y="1026">200</text>
<text class="v" x="136" y="1069">100</text>
<text class="v" x="136" y="1113">0</text>
<text class="v" x="136" y="1156">-100</text>
<text class="v" x="136" y="1199">-200</text>
<text class="v" x="136" y="1242">-300</text>
<text class="v" x="136" y="1286">-400</text>
<text class="v" x="136" y="1329">-500</text>
<text x="203" y="916" font-size="25">toward</text>
<text x="203" y="1329" font-size="25">away</text>
<text x="203" y="1108" font-size="24">10</text>
<text x="203" y="1137" font-size="24">-10</text>

<!-- FREQUENCY -->
<text x="300" y="985" font-size="33">Frequency</text>
<text x="256" y="1017" font-size="31.5">cvw</text>
<text x="323" y="1017" font-size="31.5">cve</text>
<text x="385" y="1017" font-size="31.5">fhw</text>
<text x="451" y="1017" font-size="31.5">fhe</text>
<g class="fb">
<rect x="264" y="1029.5" width="38" height="299.5"/><rect x="327" y="1029.5" width="38" height="299.5"/><rect x="390" y="1029.5" width="38" height="299.5"/><rect x="453" y="1029.5" width="38" height="299.5"/>
</g>
<path d="M264 1059.5H302M327 1059.5H365M390 1059.5H428M453 1059.5H491M264 1089.5H302M327 1089.5H365M390 1089.5H428M453 1089.5H491M264 1119.5H302M327 1119.5H365M390 1119.5H428M453 1119.5H491M264 1149.5H302M327 1149.5H365M390 1149.5H428M453 1149.5H491M264 1179.5H302M327 1179.5H365M390 1179.5H428M453 1179.5H491M264 1209.5H302M327 1209.5H365M390 1209.5H428M453 1209.5H491M264 1239.5H302M327 1239.5H365M390 1239.5H428M453 1239.5H491M264 1269.5H302M327 1269.5H365M390 1269.5H428M453 1269.5H491M264 1299.5H302M327 1299.5H365M390 1299.5H428M453 1299.5H491" stroke="#1c1c1c" stroke-width="1.6" fill="none"/>
<rect x="258" y="1126" width="50" height="4" fill="#ff4000"/>
<rect x="322" y="1214" width="49" height="4" fill="#ff4000"/>
<rect x="384" y="1214" width="49" height="4" fill="#ff4000"/>
<rect x="447" y="1214" width="50" height="3" fill="#ff4000"/>
<rect x="447" y="1223" width="50" height="3" fill="#ff4000"/>
<rect x="453" y="1214" width="38" height="12" fill="#ff4000"/>
<text class="fl" x="257" y="1041">18</text><text class="fl" x="257" y="1071">17</text><text class="fl" x="257" y="1101">16</text><text class="fl" x="257" y="1131">15</text><text class="fl" x="257" y="1161">14</text><text class="fl" x="257" y="1191">13</text><text class="fl" x="257" y="1221">12</text><text class="fl" x="257" y="1251">11</text><text class="fl" x="257" y="1281">10</text><text class="fl" x="257" y="1311">9</text><text class="fl" x="257" y="1341">8</text>
<text class="fr" x="512" y="1041">18</text><text class="fr" x="512" y="1071">17</text><text class="fr" x="512" y="1101">16</text><text class="fr" x="512" y="1131">15</text><text class="fr" x="512" y="1161">14</text><text class="fr" x="512" y="1191">13</text><text class="fr" x="512" y="1221">12</text><text class="fr" x="512" y="1251">11</text><text class="fr" x="512" y="1281">10</text><text class="fr" x="512" y="1311">9</text><text class="fr" x="512" y="1341">8</text>

<!-- SITE LABELS -->
<text x="1002" y="1393" font-size="32">cvw</text>
<text x="1078" y="1393" font-size="32">cve</text>
<text x="1078" y="1421" font-size="33.5" style="fill:#ff00ff">b12</text>
<text x="1661" y="1397" font-size="32">fhw</text>
<text x="1730" y="1397" font-size="32">fhe</text>
<text x="1664" y="1424" font-size="34" style="fill:#ff00ff">b15</text>
</svg>
</body></html>
